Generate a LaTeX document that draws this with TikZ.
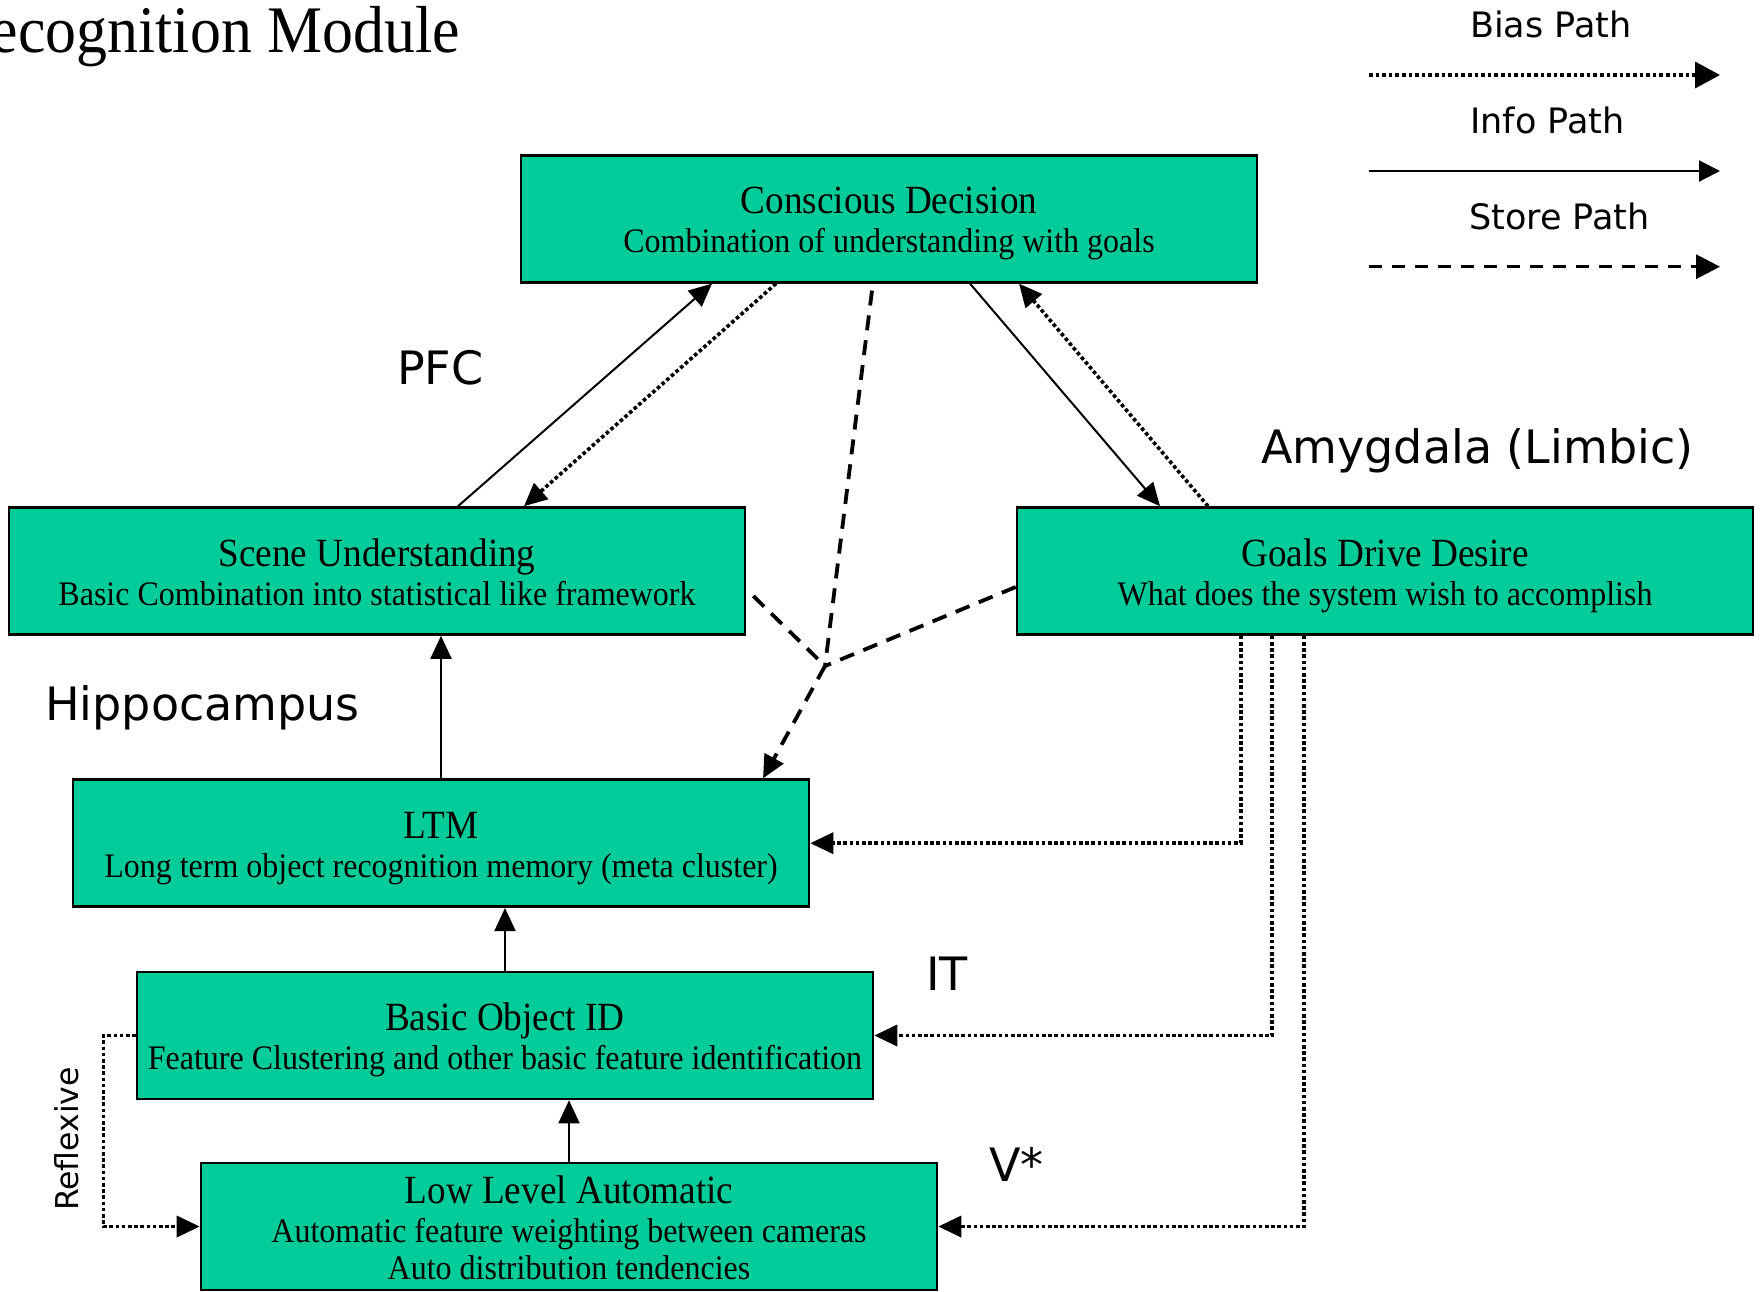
\documentclass[tikz,border=0pt]{standalone}
\usepackage{fontspec}
\setmainfont{Liberation Serif}[FakeStretch=0.93]
\newfontfamily\lblfont{DejaVu Sans}
\usetikzlibrary{arrows.meta}
\definecolor{boxgreen}{RGB}{0,204,153}
\begin{document}
\begin{tikzpicture}[x=1pt,y=-1pt,
  box/.style={draw=black, line width=2.6pt, fill=boxgreen, minimum width=736pt,
    minimum height=127pt, inner sep=0pt},
  ttl/.style={anchor=base, inner sep=0pt, font=\fontsize{40}{44}\selectfont},
  sub/.style={anchor=base, inner sep=0pt, font=\fontsize{34.4}{38}\selectfont},
  lbl/.style={anchor=base west, inner sep=0pt, font=\lblfont\fontsize{46}{50}\selectfont},
  lgd/.style={anchor=base west, inner sep=0pt, font=\lblfont\fontsize{35}{38}\selectfont},
  tip/.style={-{Triangle[length=23pt,width=21pt]}},
  info/.style={tip, line width=2pt},
  bias/.style={tip, line width=3.6pt, dash pattern=on 3.6pt off 2.6pt},
  store/.style={line width=3.8pt, dash pattern=on 15pt off 10pt},
  storetip/.style={store, tip},
]
% canvas
\fill[white] (0,0) rectangle (1764,1291);
\useasboundingbox (0,0) rectangle (1764,1291);

% title
\node[anchor=base east, inner sep=0pt, font=\fontsize{66.5}{70}\selectfont] (title) at (460,52) {ecognition Module};

% legend
\node[lgd] (lgbias) at (1470,37.7) {Bias Path};
\node[lgd] (lginfo) at (1470,133.3) {Info Path};
\node[lgd] (lgstore) at (1469,229.3) {Store Path};
\coordinate (lb1) at (1369,75);  \coordinate (lb2) at (1720,75);
\coordinate (li1) at (1369,171); \coordinate (li2) at (1720,171);
\coordinate (ls1) at (1369,266.7); \coordinate (ls2) at (1720,266.7);
\draw[line width=3.6pt, dash pattern=on 3.6pt off 3pt, -{Triangle[length=25pt,width=26pt]}] (lb1) -- (lb2);
\draw[line width=2.2pt, -{Triangle[length=21pt,width=21pt]}] (li1) -- (li2);
\draw[line width=3.4pt, dash pattern=on 13pt off 10pt, -{Triangle[length=24pt,width=24pt]}] (ls1) -- (ls2);

% boxes
\node[box] (cd) at (889,218.8) {};
\node[box] (su) at (377,571) {};
\node[box] (gd) at (1385,571) {};
\node[box] (ltm) at (441,843.2) {};
\node[box] (boid) at (505,1035.5) {};
\node[box] (low) at (569,1226.5) {};

% box texts
\node[ttl] (cdt) at (889,213) {Conscious Decision};
\node[sub] (cds) at (889,252.5) {Combination of understanding with goals};
\node[ttl] (sut) at (377,566) {Scene Understanding};
\node[sub] (sus) at (377,605) {Basic Combination into statistical like framework};
\node[ttl] (gdt) at (1385,566) {Goals Drive Desire};
\node[sub] (gds) at (1385,605) {What does the system wish to accomplish};
\node[ttl] (ltmt) at (441,838) {LTM};
\node[sub] (ltms) at (441,877) {Long term object recognition memory (meta cluster)};
\node[ttl] (boidt) at (505,1030) {Basic Object ID};
\node[sub] (boids) at (505,1069.5) {Feature Clustering and other basic feature identification};
\node[ttl] (lowt) at (569,1203) {Low Level Automatic};
\node[sub] (lows1) at (569,1242) {Automatic feature weighting between cameras};
\node[sub] (lows2) at (569,1279) {Auto distribution tendencies};

% region labels
\node[lbl] (pfc) at (397,384) {PFC};
\node[lbl] (amy) at (1261,463.5) {Amygdala (Limbic)};
\node[lbl] (hip) at (45,720) {Hippocampus};
\node[lbl] (it) at (926,990) {IT};
\node[lbl] (v) at (989,1181) {V*};
\node[anchor=base, inner sep=0pt, rotate=90, font=\lblfont\fontsize{31.5}{34}\selectfont] (refl) at (78.5,1139) {Reflexive};

% scene <-> decision
\draw[info] ([xshift=81pt]su.north) -- ([xshift=-177pt]cd.south);
\draw[bias] ([xshift=-113pt]cd.south) -- ([xshift=147pt]su.north);
% decision <-> goals
\draw[info] ([xshift=81pt]cd.south) -- ([xshift=-225pt]gd.north);
\draw[bias] ([xshift=-177pt]gd.north) -- ([xshift=130pt]cd.south);

% store paths meeting at one point, then down to LTM
\coordinate (j) at (825,666);
\draw[store] ([xshift=-17pt,yshift=-7pt]cd.south) -- (j);
\draw[store] ([xshift=7pt,yshift=-25pt]su.east) -- (j);
\draw[store] ([yshift=-16pt]gd.west) -- (j);
\draw[storetip] (j) -- ([xshift=322pt]ltm.north);

% upward info chain
\draw[info] (ltm.north) -- (ltm.north |- su.south);
\draw[info] (boid.north) -- (boid.north |- ltm.south);
\draw[info] (low.north) -- (low.north |- boid.south);

% reflexive bias
\draw[bias] (boid.west) -- ++(-32.4,0) |- (low.west);

% goal biases
\draw[bias] ([xshift=-144pt]gd.south) |- (ltm.east);
\draw[bias] ([xshift=-113pt]gd.south) |- (boid.east);
\draw[bias] ([xshift=-81pt]gd.south) |- (low.east);
\end{tikzpicture}
\end{document}
